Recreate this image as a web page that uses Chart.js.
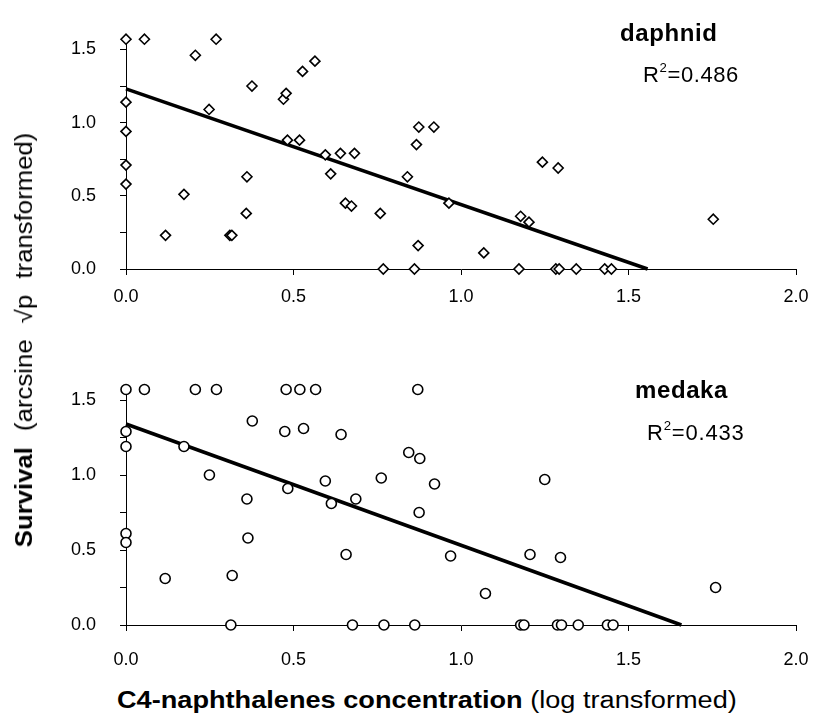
<!DOCTYPE html>
<html>
<head>
<meta charset="utf-8">
<script src="https://cdn.jsdelivr.net/npm/chart.js@4"></script>
<style>
  html, body { margin: 0; padding: 0; background: #fff; }
  body { width: 815px; height: 719px; position: relative; overflow: hidden;
         font-family: "Liberation Sans", Arial, sans-serif; color: #000; }
  canvas { position: absolute; left: 0; }
  .lbl { position: absolute; white-space: nowrap; line-height: 28px; }
  .b { font-weight: bold; }
  sup { font-size: 60%; line-height: 0; position: relative; top: -2px; }
</style>
</head>
<body>
<canvas id="top" width="815" height="320" style="top:0px"></canvas>
<canvas id="bottom" width="815" height="340" style="top:340px"></canvas>

<div class="lbl b" style="left:620px;top:19px;font-size:24px;letter-spacing:0.6px;">daphnid</div>
<div class="lbl" style="left:643px;top:61px;font-size:22px;letter-spacing:0.6px;">R<sup>2</sup>=0.486</div>
<div class="lbl b" style="left:635px;top:376px;font-size:24px;letter-spacing:0.6px;">medaka</div>
<div class="lbl" style="left:647px;top:419px;font-size:22px;letter-spacing:0.8px;">R<sup>2</sup>=0.433</div>

<div class="lbl" style="left:117px;top:686px;font-size:23px;transform:scaleX(1.18);transform-origin:0 50%;"><span class="b">C4-naphthalenes concentration</span> (log transformed)</div>
<div class="lbl" style="left:24px;top:340px;font-size:23px;word-spacing:8px;transform:translate(-50%,-50%) rotate(-90deg) scaleX(1.12);"><span class="b">Survival</span> (arcsine &#8730;p transformed)</div>

<script>
// daphnid survival vs C4-naphthalenes (log)
var daphnidX = [0, 0.055, 0.269, 0.207, 0, 0, 0, 0,
  0.118, 0.173, 0.248, 0.310, 0.316, 0.361, 0.359, 0.376,
  0.470, 0.478, 0.482, 0.518, 0.527, 0.564, 0.595, 0.611, 0.640, 0.682, 0.655, 0.673,
  0.759, 0.768, 0.840, 0.867, 0.874, 0.919, 0.861, 0.872, 0.964,
  1.068, 1.243, 1.290, 1.178, 1.203, 1.753,
  1.173, 1.283, 1.293, 1.344, 1.429, 1.449];
var daphnidY = [1.57, 1.57, 1.57, 1.46, 1.14, 0.94, 0.71, 0.58,
  0.23, 0.51, 1.09, 0.23, 0.23, 0.63, 0.38, 1.25,
  1.16, 1.20, 0.88, 0.88, 1.35, 1.42, 0.78, 0.65, 0.79, 0.79, 0.45, 0.43,
  0.38, 0, 0.63, 0.85, 0.97, 0.97, 0, 0.16, 0.45,
  0.11, 0.73, 0.69, 0.36, 0.32, 0.34,
  0, 0, 0, 0, 0, 0];
var daphnidFitX = [0, 1.557];
var daphnidFitY = [1.23, 0];

// medaka
var medakaX = [0, 0.055, 0.207, 0.270, 0.478, 0.519, 0.566, 0.871,
  0, 0, 0, 0,
  0.117, 0.173, 0.249, 0.317, 0.313, 0.361, 0.364, 0.377,
  0.474, 0.483, 0.530, 0.595, 0.613, 0.642, 0.657, 0.686, 0.676, 0.762, 0.770,
  0.844, 0.877, 0.875, 0.862, 0.921, 0.969,
  1.073, 1.206, 1.297, 1.250, 1.760,
  1.178, 1.188, 1.288, 1.300, 1.350, 1.437, 1.454];
var medakaY = [1.57, 1.57, 1.57, 1.57, 1.57, 1.57, 1.57, 1.57,
  1.29, 1.19, 0.61, 0.55,
  0.31, 1.19, 1.00, 0.33, 0, 0.84, 0.58, 1.36,
  1.29, 0.91, 1.31, 0.96, 0.81, 1.27, 0.47, 0.84, 0, 0.98, 0,
  1.15, 1.11, 0.75, 0, 0.94, 0.46,
  0.21, 0.47, 0.45, 0.97, 0.25,
  0, 0, 0, 0, 0, 0, 0];
var medakaFitX = [0, 1.658];
var medakaFitY = [1.34, 0];

var xTicks = [0, 0.5, 1.0, 1.5, 2.0];
var yTicks = [0, 0.25, 0.5, 0.75, 1.0, 1.25, 1.5];

function pts(xs, ys) {
  return xs.map(function(x, i) { return { x: x, y: ys[i] }; });
}

var tickFont = { family: '"Liberation Sans", Arial, sans-serif', size: 18 };

function makePanel(id, xs, ys, fx, fy, marker, padTop, xAxisH, xPad) {
  var ctx = document.getElementById(id).getContext('2d');
  return new Chart(ctx, {
    type: 'scatter',
    data: {
      datasets: [{
        data: pts(xs, ys),
        pointStyle: marker,
        pointRadius: 5,
        pointHoverRadius: 5,
        pointBackgroundColor: '#fff',
        pointBorderColor: '#000',
        pointBorderWidth: 1.6,
        clip: false,
        order: 1
      }, {
        data: pts(fx, fy),
        showLine: true,
        borderColor: '#000',
        borderWidth: 3.5,
        pointRadius: 0,
        clip: false,
        order: 2
      }]
    },
    options: {
      responsive: false,
      animation: false,
      events: [],
      layout: { padding: { top: padTop, right: 19, left: 0, bottom: 0 } },
      plugins: { legend: { display: false }, tooltip: { enabled: false } },
      scales: {
        x: {
          type: 'linear', min: 0, max: 2,
          afterFit: function(s) { s.height = xAxisH; s.paddingLeft = 12; s.paddingRight = 12; },
          afterBuildTicks: function(s) { s.ticks = xTicks.map(function(v) { return { value: v }; }); },
          ticks: { color: '#000', font: tickFont, padding: xPad, maxRotation: 0,
                   callback: function(v) { return v.toFixed(1); } },
          grid: { drawOnChartArea: false, color: '#000', tickLength: 6 },
          border: { color: '#000', width: 1 }
        },
        y: {
          type: 'linear', min: 0, max: 1.6,
          afterFit: function(s) { s.width = 126; },
          afterBuildTicks: function(s) { s.ticks = yTicks.map(function(v) { return { value: v }; }); },
          ticks: { color: '#000', font: tickFont, padding: 24,
                   callback: function(v) { return Math.round(v * 100) % 50 === 0 ? v.toFixed(1) : ''; } },
          grid: { drawOnChartArea: false, color: '#000', tickLength: 6 },
          border: { color: '#000', width: 1 }
        }
      }
    }
  });
}

makePanel('top', daphnidX, daphnidY, daphnidFitX, daphnidFitY, 'rectRot', 17, 51, 11);
makePanel('bottom', medakaX, medakaY, medakaFitX, medakaFitY, 'circle', 45, 55, 18);
</script>
</body>
</html>
